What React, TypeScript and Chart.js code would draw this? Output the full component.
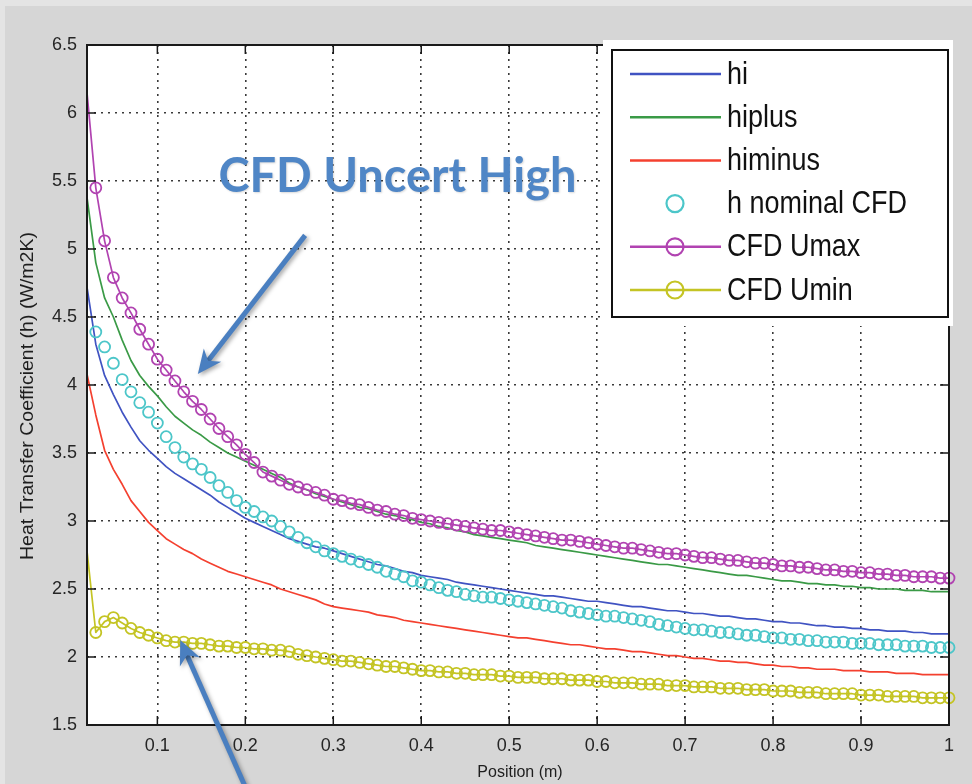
import React, { useEffect, useRef } from "react";
import { Chart, registerables } from "chart.js";

Chart.register(...registerables);

// ---------- data ----------
const positions = [
  0.02, 0.03, 0.04, 0.05, 0.06, 0.07, 0.08, 0.09,
  0.10, 0.11, 0.12, 0.13, 0.14, 0.15, 0.16, 0.17, 0.18, 0.19,
  0.20, 0.21, 0.22, 0.23, 0.24, 0.25, 0.26, 0.27, 0.28, 0.29,
  0.30, 0.31, 0.32, 0.33, 0.34, 0.35, 0.36, 0.37, 0.38, 0.39,
  0.40, 0.41, 0.42, 0.43, 0.44, 0.45, 0.46, 0.47, 0.48, 0.49,
  0.50, 0.51, 0.52, 0.53, 0.54, 0.55, 0.56, 0.57, 0.58, 0.59,
  0.60, 0.61, 0.62, 0.63, 0.64, 0.65, 0.66, 0.67, 0.68, 0.69,
  0.70, 0.71, 0.72, 0.73, 0.74, 0.75, 0.76, 0.77, 0.78, 0.79,
  0.80, 0.81, 0.82, 0.83, 0.84, 0.85, 0.86, 0.87, 0.88, 0.89,
  0.90, 0.91, 0.92, 0.93, 0.94, 0.95, 0.96, 0.97, 0.98, 0.99,
  1.00,
];

const hi = [
  4.72, 4.30, 4.07, 3.93, 3.80, 3.69, 3.59, 3.52,
  3.46, 3.40, 3.35, 3.31, 3.27, 3.23, 3.19, 3.14, 3.10, 3.06,
  3.02, 2.99, 2.96, 2.93, 2.90, 2.87, 2.85, 2.83, 2.81, 2.80,
  2.78, 2.76, 2.74, 2.72, 2.70, 2.68, 2.67, 2.65, 2.63, 2.62,
  2.60, 2.59, 2.58, 2.57, 2.55, 2.54, 2.53, 2.52, 2.51, 2.50,
  2.49, 2.48, 2.47, 2.46, 2.45, 2.45, 2.44, 2.43, 2.42, 2.41,
  2.41, 2.40, 2.39, 2.38, 2.37, 2.37, 2.36, 2.35, 2.34, 2.34,
  2.33, 2.32, 2.32, 2.31, 2.30, 2.30, 2.29, 2.28, 2.28, 2.27,
  2.26, 2.26, 2.25, 2.25, 2.24, 2.23, 2.23, 2.22, 2.22, 2.21,
  2.21, 2.20, 2.20, 2.19, 2.19, 2.19, 2.18, 2.18, 2.17, 2.17,
  2.17,
];

const hiplus = [
  5.38, 4.90, 4.64, 4.50, 4.33, 4.18, 4.07, 3.99,
  3.92, 3.84, 3.77, 3.72, 3.67, 3.63, 3.58, 3.54, 3.50, 3.47,
  3.44, 3.41, 3.38, 3.35, 3.32, 3.28, 3.25, 3.23, 3.20, 3.18,
  3.16, 3.14, 3.12, 3.10, 3.09, 3.07, 3.05, 3.04, 3.02, 3.01,
  2.99, 2.98, 2.96, 2.95, 2.93, 2.92, 2.90, 2.89, 2.88, 2.87,
  2.86, 2.85, 2.84, 2.82, 2.81, 2.80, 2.79, 2.78, 2.77, 2.76,
  2.75, 2.74, 2.73, 2.72, 2.71, 2.70, 2.69, 2.68, 2.68, 2.67,
  2.66, 2.65, 2.64, 2.63, 2.62, 2.61, 2.60, 2.60, 2.59, 2.58,
  2.57, 2.56, 2.56, 2.55, 2.54, 2.54, 2.53, 2.53, 2.52, 2.52,
  2.51, 2.51, 2.50, 2.50, 2.50, 2.49, 2.49, 2.49, 2.48, 2.48,
  2.48,
];

const himinus = [
  4.08, 3.78, 3.52, 3.38, 3.27, 3.15, 3.07, 2.99,
  2.93, 2.87, 2.83, 2.79, 2.76, 2.72, 2.69, 2.66, 2.63, 2.61,
  2.59, 2.57, 2.55, 2.53, 2.50, 2.48, 2.46, 2.44, 2.42, 2.39,
  2.37, 2.36, 2.35, 2.34, 2.33, 2.31, 2.30, 2.29, 2.27, 2.26,
  2.25, 2.24, 2.23, 2.22, 2.21, 2.20, 2.19, 2.18, 2.17, 2.16,
  2.15, 2.14, 2.14, 2.13, 2.12, 2.11, 2.10, 2.09, 2.09, 2.08,
  2.07, 2.06, 2.06, 2.05, 2.04, 2.04, 2.03, 2.02, 2.01, 2.01,
  2.00, 1.99, 1.99, 1.98, 1.97, 1.97, 1.96, 1.96, 1.95, 1.94,
  1.94, 1.93, 1.93, 1.92, 1.92, 1.91, 1.91, 1.91, 1.90, 1.90,
  1.90, 1.89, 1.89, 1.89, 1.88, 1.88, 1.88, 1.87, 1.87, 1.87,
  1.87,
];

const hNominalCFD = [
  null, 4.39, 4.28, 4.16, 4.04, 3.95, 3.87, 3.80,
  3.72, 3.62, 3.54, 3.47, 3.42, 3.38, 3.32, 3.26, 3.21, 3.15,
  3.10, 3.07, 3.03, 3.00, 2.96, 2.92, 2.88, 2.84, 2.81, 2.78,
  2.76, 2.74, 2.72, 2.70, 2.68, 2.66, 2.63, 2.61, 2.59, 2.56,
  2.55, 2.53, 2.51, 2.49, 2.48, 2.46, 2.45, 2.44, 2.44, 2.43,
  2.42, 2.41, 2.40, 2.39, 2.38, 2.37, 2.36, 2.34, 2.33, 2.32,
  2.31, 2.30, 2.30, 2.29, 2.28, 2.27, 2.26, 2.24, 2.23, 2.22,
  2.21, 2.20, 2.20, 2.19, 2.18, 2.18, 2.17, 2.16, 2.16, 2.15,
  2.14, 2.14, 2.13, 2.13, 2.12, 2.12, 2.11, 2.11, 2.11, 2.10,
  2.10, 2.10, 2.09, 2.09, 2.09, 2.08, 2.08, 2.08, 2.07, 2.07,
  2.07,
];

const cfdUmax = [
  6.15, 5.45, 5.06, 4.79, 4.64, 4.53, 4.41, 4.30,
  4.19, 4.11, 4.03, 3.95, 3.88, 3.82, 3.75, 3.68, 3.62, 3.56,
  3.49, 3.43, 3.36, 3.33, 3.30, 3.27, 3.25, 3.23, 3.21, 3.19,
  3.16, 3.15, 3.13, 3.12, 3.10, 3.08, 3.07, 3.05, 3.04, 3.02,
  3.01, 3.00, 2.99, 2.98, 2.97, 2.96, 2.95, 2.94, 2.93, 2.93,
  2.92, 2.91, 2.90, 2.89, 2.88, 2.87, 2.86, 2.86, 2.85, 2.84,
  2.83, 2.82, 2.81, 2.80, 2.80, 2.79, 2.78, 2.77, 2.76, 2.76,
  2.75, 2.74, 2.73, 2.73, 2.72, 2.71, 2.71, 2.70, 2.69, 2.69,
  2.68, 2.67, 2.67, 2.66, 2.66, 2.65, 2.64, 2.64, 2.63, 2.63,
  2.62, 2.62, 2.61, 2.61, 2.60, 2.60, 2.59, 2.59, 2.59, 2.58,
  2.58,
];

const cfdUmin = [
  2.78, 2.18, 2.26, 2.29, 2.25, 2.21, 2.18, 2.16,
  2.14, 2.12, 2.11, 2.11, 2.10, 2.10, 2.09, 2.08, 2.08, 2.07,
  2.07, 2.06, 2.06, 2.05, 2.05, 2.04, 2.02, 2.01, 2.00, 1.99,
  1.98, 1.97, 1.97, 1.96, 1.95, 1.94, 1.93, 1.93, 1.92, 1.91,
  1.90, 1.90, 1.89, 1.89, 1.88, 1.88, 1.87, 1.87, 1.87, 1.86,
  1.86, 1.85, 1.85, 1.85, 1.84, 1.84, 1.84, 1.83, 1.83, 1.83,
  1.82, 1.82, 1.81, 1.81, 1.81, 1.80, 1.80, 1.80, 1.79, 1.79,
  1.79, 1.78, 1.78, 1.78, 1.77, 1.77, 1.77, 1.76, 1.76, 1.76,
  1.75, 1.75, 1.75, 1.74, 1.74, 1.74, 1.73, 1.73, 1.73, 1.73,
  1.72, 1.72, 1.72, 1.71, 1.71, 1.71, 1.71, 1.70, 1.70, 1.70,
  1.70,
];

const xTicks = [0.1, 0.2, 0.3, 0.4, 0.5, 0.6, 0.7, 0.8, 0.9, 1];
const yTicks = [1.5, 2, 2.5, 3, 3.5, 4, 4.5, 5, 5.5, 6, 6.5];

const seriesLabels = ["hi", "hiplus", "himinus", "h nominal CFD", "CFD Umax", "CFD Umin"];
const xTitle = "Position (m)";
const yTitle = "Heat Transfer Coefficient (h) (W/m2K)";
const annotationText = "CFD Uncert High";

// ---------- styles ----------
const COLORS = {
  blue: "#4053c2",
  green: "#3a9a46",
  red: "#f4402f",
  cyan: "#4cc6c9",
  magenta: "#b143b1",
  yellow: "#c4c424",
};
const ANNOT_BLUE = "#4f86c6";
const ARROW_BLUE = "#4a7fc0";

const toPoints = (ys: (number | null)[]) => positions.map((x, i) => ({ x, y: ys[i] }));

function fitText(
  ctx: CanvasRenderingContext2D,
  text: string,
  x: number,
  y: number,
  font: string,
  targetW: number | null,
  align: CanvasTextAlign,
  rotate = 0,
  fixedScale = 1
) {
  ctx.save();
  ctx.font = font;
  const w = ctx.measureText(text).width;
  const s = targetW ? targetW / w : fixedScale;
  ctx.translate(x, y);
  if (rotate) ctx.rotate(rotate);
  ctx.scale(s, 1);
  ctx.textAlign = align;
  ctx.textBaseline = "middle";
  ctx.fillText(text, 0, 0);
  ctx.restore();
}

function drawArrow(ctx: CanvasRenderingContext2D, x1: number, y1: number, x2: number, y2: number) {
  const ang = Math.atan2(y2 - y1, x2 - x1);
  const c = Math.cos(ang);
  const s = Math.sin(ang);
  const headLen = 24;
  const headHalf = 11;
  const bx = x2 - headLen * c;
  const by = y2 - headLen * s;
  const nx = x2 - headLen * 0.7 * c;
  const ny = y2 - headLen * 0.7 * s;
  ctx.save();
  ctx.shadowColor = "rgba(0,0,0,0.35)";
  ctx.shadowBlur = 4;
  ctx.shadowOffsetX = 2;
  ctx.shadowOffsetY = 2;
  ctx.strokeStyle = ARROW_BLUE;
  ctx.fillStyle = ARROW_BLUE;
  ctx.lineWidth = 5;
  ctx.lineCap = "butt";
  ctx.beginPath();
  ctx.moveTo(x1, y1);
  ctx.lineTo(nx, ny);
  ctx.stroke();
  ctx.beginPath();
  ctx.moveTo(x2, y2);
  ctx.lineTo(bx - headHalf * s, by + headHalf * c);
  ctx.lineTo(nx, ny);
  ctx.lineTo(bx + headHalf * s, by - headHalf * c);
  ctx.closePath();
  ctx.fill();
  ctx.restore();
}

const decorPlugin = {
  id: "decor",
  beforeDraw(chart: any) {
    const { ctx, chartArea: a, width, height } = chart;
    ctx.save();
    ctx.fillStyle = "#d6d6d6";
    ctx.fillRect(0, 0, width, height);
    ctx.fillStyle = "#e4e4e4";
    ctx.fillRect(0, 0, width, 6);
    ctx.fillRect(0, 0, 5, height);
    ctx.fillStyle = "#ffffff";
    ctx.fillRect(a.left, a.top, a.right - a.left, a.bottom - a.top);
    ctx.restore();
  },
  afterDraw(chart: any) {
    const { ctx, chartArea: a, scales } = chart;
    const xs = scales.x;
    const ys = scales.y;

    // box + inward ticks
    ctx.save();
    ctx.strokeStyle = "#1a1a1a";
    ctx.lineWidth = 2;
    ctx.strokeRect(a.left, a.top, a.right - a.left, a.bottom - a.top);
    ctx.lineWidth = 1.5;
    const tl = 9;
    ctx.beginPath();
    xTicks.forEach((v) => {
      const px = xs.getPixelForValue(v);
      ctx.moveTo(px, a.bottom);
      ctx.lineTo(px, a.bottom - tl);
      ctx.moveTo(px, a.top);
      ctx.lineTo(px, a.top + tl);
    });
    yTicks.forEach((v) => {
      const py = ys.getPixelForValue(v);
      ctx.moveTo(a.left, py);
      ctx.lineTo(a.left + tl, py);
      ctx.moveTo(a.right, py);
      ctx.lineTo(a.right - tl, py);
    });
    ctx.stroke();
    ctx.restore();

    // axis titles
    ctx.save();
    ctx.fillStyle = "#1e1e1e";
    fitText(ctx, xTitle, (a.left + a.right) / 2 + 2, 773, "16px 'Liberation Sans', Arial, sans-serif", null, "center");
    fitText(ctx, yTitle, 28, 396, "18px 'Liberation Sans', Arial, sans-serif", 328, "center", -Math.PI / 2);
    ctx.restore();

    // legend
    const lx = 603, ly = 40, lw = 350, lh = 286;
    ctx.save();
    ctx.fillStyle = "#ffffff";
    ctx.fillRect(lx, ly, lw, lh);
    ctx.strokeStyle = "#111";
    ctx.lineWidth = 2;
    ctx.strokeRect(612, 50, 336, 267);
    chart.data.datasets.forEach((ds: any, i: number) => {
      const y = 74 + i * 43.2;
      if (ds.showLine !== false) {
        ctx.strokeStyle = ds.borderColor;
        ctx.lineWidth = 2.5;
        ctx.beginPath();
        ctx.moveTo(630, y);
        ctx.lineTo(721, y);
        ctx.stroke();
      }
      if (ds.hasMarker) {
        ctx.strokeStyle = ds.pointBorderColor;
        ctx.lineWidth = 2.2;
        ctx.beginPath();
        ctx.arc(675, y, 8.5, 0, Math.PI * 2);
        ctx.stroke();
      }
      ctx.fillStyle = "#111";
      fitText(ctx, ds.label, 727, y + 1, "31px 'Liberation Sans', Arial, sans-serif", null, "left", 0, 0.87);
    });
    ctx.restore();

    // annotations
    const X = (v: number) => xs.getPixelForValue(v);
    const Y = (v: number) => ys.getPixelForValue(v);
    ctx.save();
    ctx.fillStyle = ANNOT_BLUE;
    ctx.shadowColor = "rgba(0,0,0,0.15)";
    ctx.shadowBlur = 2;
    ctx.shadowOffsetX = 1;
    ctx.shadowOffsetY = 1;
    fitText(ctx, annotationText, X(0.373), Y(5.53), "bold 48px Lato, 'Open Sans', sans-serif", 358, "center");
    ctx.restore();
    drawArrow(ctx, X(0.268), Y(5.10), X(0.146), Y(4.08));
    drawArrow(ctx, X(0.203), Y(1.0), X(0.126), Y(2.125));
  },
};

export default function App() {
  const canvasRef = useRef<HTMLCanvasElement | null>(null);

  useEffect(() => {
    const canvas = canvasRef.current;
    if (!canvas) return;

    const lineDs = (label: string, data: (number | null)[], color: string, order: number) => ({
      label,
      data: toPoints(data),
      borderColor: color,
      backgroundColor: color,
      borderWidth: 1.7,
      pointRadius: 0,
      fill: false,
      tension: 0,
      order,
      hasMarker: false,
    });
    const markerDs = (label: string, data: (number | null)[], color: string, order: number, withLine: boolean) => ({
      label,
      data: toPoints(data),
      borderColor: color,
      backgroundColor: "rgba(0,0,0,0)",
      borderWidth: 1.7,
      showLine: withLine,
      pointStyle: "circle",
      pointRadius: (c: any) => (withLine && c.dataIndex === 0 ? 0 : 5.5),
      pointBorderColor: color,
      pointBackgroundColor: "rgba(0,0,0,0)",
      pointBorderWidth: 1.8,
      fill: false,
      tension: 0,
      order,
      hasMarker: true,
    });

    const chart = new Chart(canvas, {
      type: "line",
      data: {
        datasets: [
          lineDs(seriesLabels[0], hi, COLORS.blue, 6),
          lineDs(seriesLabels[1], hiplus, COLORS.green, 5),
          lineDs(seriesLabels[2], himinus, COLORS.red, 4),
          markerDs(seriesLabels[3], hNominalCFD, COLORS.cyan, 3, false),
          markerDs(seriesLabels[4], cfdUmax, COLORS.magenta, 2, true),
          markerDs(seriesLabels[5], cfdUmin, COLORS.yellow, 1, true),
        ] as any,
      },
      options: {
        responsive: false,
        animation: false,
        events: [],
        layout: { padding: { top: 45, right: 23, left: 0, bottom: 0 } },
        plugins: { legend: { display: false }, tooltip: { enabled: false } },
        elements: { line: { borderJoinStyle: "round" } },
        datasets: { line: { clip: false } as any },
        scales: {
          x: {
            type: "linear",
            min: 0.02,
            max: 1,
            afterBuildTicks: (s: any) => {
              s.ticks = xTicks.map((v) => ({ value: v }));
            },
            afterFit: (s: any) => {
              s.height = 59;
            },
            grid: {
              color: (c: any) => (c.tick && c.tick.value === 1 ? "rgba(0,0,0,0)" : "#3a3a3a"),
              lineWidth: 1.6,
              drawTicks: false,
            },
            border: { display: false, dash: [2, 5] },
            ticks: {
              padding: 10,
              autoSkip: false,
              maxRotation: 0,
              color: "#262626",
              font: { family: "'Liberation Sans', Arial, sans-serif", size: 18 },
              callback: (v: any) => String(v),
            },
          },
          y: {
            type: "linear",
            min: 1.5,
            max: 6.5,
            afterBuildTicks: (s: any) => {
              s.ticks = yTicks.map((v) => ({ value: v }));
            },
            afterFit: (s: any) => {
              s.width = 87;
            },
            grid: {
              color: (c: any) =>
                c.tick && (c.tick.value === 1.5 || c.tick.value === 6.5) ? "rgba(0,0,0,0)" : "#3a3a3a",
              lineWidth: 1.6,
              drawTicks: false,
            },
            border: { display: false, dash: [2, 5] },
            ticks: {
              padding: 10,
              autoSkip: false,
              color: "#262626",
              font: { family: "'Liberation Sans', Arial, sans-serif", size: 18 },
              callback: (v: any) => String(v),
            },
          },
        },
      } as any,
      plugins: [decorPlugin],
    });

    return () => {
      chart.destroy();
    };
  }, []);

  return (
    <div style={{ position: "absolute", left: 0, top: 0, width: 972, height: 784 }}>
      <canvas ref={canvasRef} width={972} height={784} style={{ display: "block", width: 972, height: 784 }} />
    </div>
  );
}
